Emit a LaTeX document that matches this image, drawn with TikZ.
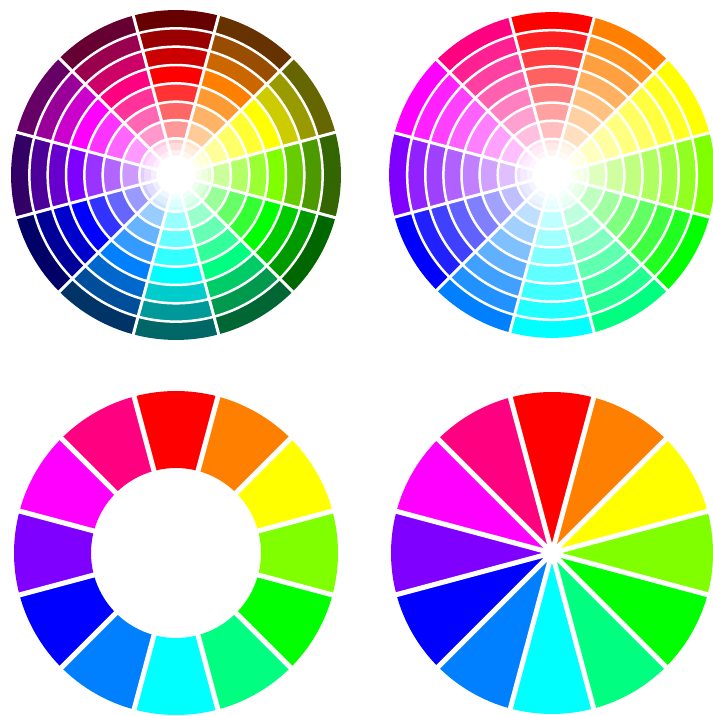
\documentclass[tikz,border=0pt]{standalone}
\definecolor{h0}{RGB}{255,0,0}
\definecolor{h1}{RGB}{255,128,0}
\definecolor{h2}{RGB}{255,255,0}
\definecolor{h3}{RGB}{128,255,0}
\definecolor{h4}{RGB}{0,255,0}
\definecolor{h5}{RGB}{0,255,128}
\definecolor{h6}{RGB}{0,255,255}
\definecolor{h7}{RGB}{0,128,255}
\definecolor{h8}{RGB}{0,0,255}
\definecolor{h9}{RGB}{128,0,255}
\definecolor{h10}{RGB}{255,0,255}
\definecolor{h11}{RGB}{255,0,128}
\tikzset{
  ringline/.style={white,line width=2.5pt},
  spokeline/.style={white,line width=3pt},
  gapline/.style={white,line width=5pt},
}
\begin{document}
\begin{tikzpicture}[x=1pt,y=1pt]
\useasboundingbox (0,0) rectangle (713,716);
\fill[white] (0,0) rectangle (713,716);
% ---------- top left: tints and shades ----------
\begin{scope}[shift={(176,541)}]
\foreach \i in {0,...,11}{
  \pgfmathsetmacro\aa{75-30*\i}
  \pgfmathsetmacro\ab{105-30*\i}
  \foreach \k in {1,...,8}{
    \pgfmathsetmacro\ra{\k*18.33}
    \pgfmathsetmacro\rb{(\k+1)*18.33}
    \ifnum\k>5
      \pgfmathtruncatemacro\p{100-20*(\k-5)}\def\mix{black}
    \else
      \pgfmathtruncatemacro\p{20*\k}\def\mix{white}
    \fi
    \fill[h\i!\p!\mix] (\aa:\ra) arc[start angle=\aa,end angle=\ab,radius=\ra]
      -- (\ab:\rb) arc[start angle=\ab,end angle=\aa,radius=\rb] -- cycle;
  }
}
\foreach \k in {1,...,8}{\draw[ringline] (0,0) circle[radius=\k*18.33];}
\foreach \j in {0,...,11}{\draw[spokeline] (0,0) -- (15+30*\j:167);}
\fill[white,opacity=0.35] (0,0) circle[radius=32];
\fill[white,opacity=0.5] (0,0) circle[radius=25];
\fill[white] (0,0) circle[radius=19];
\end{scope}
% ---------- top right: tints ----------
\begin{scope}[shift={(552,541)}]
\foreach \i in {0,...,11}{
  \pgfmathsetmacro\aa{75-30*\i}
  \pgfmathsetmacro\ab{105-30*\i}
  \foreach \k in {1,...,8}{
    \pgfmathsetmacro\ra{\k*18.1}
    \pgfmathsetmacro\rb{(\k+1)*18.1}
    \pgfmathtruncatemacro\p{12.5*\k}
    \fill[h\i!\p!white] (\aa:\ra) arc[start angle=\aa,end angle=\ab,radius=\ra]
      -- (\ab:\rb) arc[start angle=\ab,end angle=\aa,radius=\rb] -- cycle;
  }
}
\foreach \k in {1,...,8}{\draw[ringline] (0,0) circle[radius=\k*18.1];}
\foreach \j in {0,...,11}{\draw[spokeline] (0,0) -- (15+30*\j:165);}
\fill[white,opacity=0.35] (0,0) circle[radius=32];
\fill[white,opacity=0.5] (0,0) circle[radius=25];
\fill[white] (0,0) circle[radius=19];
\end{scope}
% ---------- bottom left: ring ----------
\begin{scope}[shift={(176,163)}]
\foreach \i in {0,...,11}{
  \pgfmathsetmacro\aa{75-30*\i}
  \pgfmathsetmacro\ab{105-30*\i}
  \fill[h\i] (\aa:85) arc[start angle=\aa,end angle=\ab,radius=85]
    -- (\ab:162) arc[start angle=\ab,end angle=\aa,radius=162] -- cycle;
}
\foreach \j in {0,...,11}{\draw[gapline] (15+30*\j:80) -- (15+30*\j:166);}
\end{scope}
% ---------- bottom right: pie ----------
\begin{scope}[shift={(552,163)}]
\foreach \i in {0,...,11}{
  \pgfmathsetmacro\aa{75-30*\i}
  \pgfmathsetmacro\ab{105-30*\i}
  \fill[h\i] (0,0) -- (\aa:161) arc[start angle=\aa,end angle=\ab,radius=161] -- cycle;
}
\foreach \j in {0,...,11}{\draw[gapline] (0,0) -- (15+30*\j:165);}
\fill[white] (0,0) circle[radius=6];
\end{scope}
\end{tikzpicture}
\end{document}
